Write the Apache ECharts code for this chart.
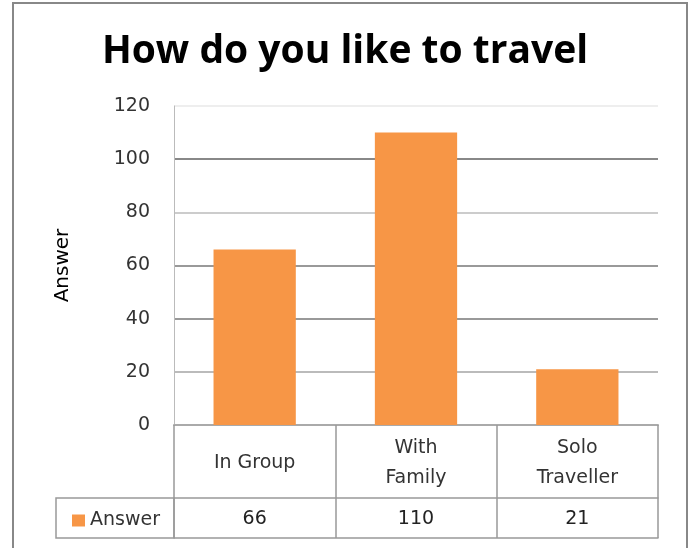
<!DOCTYPE html>
<html>
<head>
<meta charset="utf-8">
<script src="https://cdn.jsdelivr.net/npm/echarts@6/dist/echarts.min.js"></script>
<style>
  html, body { margin: 0; padding: 0; background: #fff; }
  #chart { width: 690px; height: 548px; }
</style>
</head>
<body>
<div id="chart"></div>
<script>
// Survey: how people like to travel
const seriesName = 'Answer';
const categories = ['In Group', 'With\nFamily', 'Solo\nTraveller'];
const answers = [66, 110, 21];
const yTicks = { min: 0, max: 120, interval: 20 };

// layout of the plot and of the data table underneath
const G = { left: 174, right: 32, top: 106, bottom: 123 };
const W = 690, H = 548;
const catRowH = 73, valRowH = 40, legendCellLeft = 56;
const axisY = H - G.bottom;
const tableLine = '#999';
const titleFont = '"Open Sans", "DejaVu Sans", sans-serif';
const font = '"DejaVu Sans", "Open Sans", sans-serif';

const chart = echarts.init(document.getElementById('chart'), null, { renderer: 'canvas' });

chart.setOption({
  backgroundColor: '#fff',
  animation: false,
  title: {
    text: 'How do you like to travel',
    left: 'center',
    top: 27,
    textStyle: { fontFamily: titleFont, fontSize: 39, fontWeight: 'bold', color: '#000' }
  },
  legend: {
    data: [seriesName],
    left: 67,
    top: axisY + catRowH + 8,
    icon: 'rect',
    itemWidth: 13,
    itemHeight: 12,
    itemStyle: { borderWidth: 0 },
    textStyle: { fontFamily: font, fontSize: 19, color: '#333', verticalAlign: 'middle' },
    selectedMode: false
  },
  grid: { left: G.left, right: G.right, top: G.top, bottom: G.bottom, containLabel: false },
  xAxis: [
    {
      // category header row of the table
      type: 'category',
      data: categories,
      position: 'bottom',
      boundaryGap: true,
      axisLine: { show: true, lineStyle: { color: '#aaa', width: 2 } },
      axisTick: { show: true, length: catRowH, lineStyle: { color: tableLine, width: 1.5 } },
      axisLabel: {
        fontFamily: font, fontSize: 19, color: '#333', lineHeight: 30,
        verticalAlign: 'middle', margin: 38
      },
      splitLine: { show: false }
    },
    {
      // value row of the table
      type: 'category',
      data: categories,
      position: 'bottom',
      offset: catRowH,
      boundaryGap: true,
      axisLine: { show: true, lineStyle: { color: tableLine, width: 1.5 } },
      axisTick: { show: true, length: valRowH, lineStyle: { color: tableLine, width: 1.5 } },
      axisLabel: {
        fontFamily: font, fontSize: 19, color: '#222',
        verticalAlign: 'middle', margin: 21,
        formatter: (v, i) => String(answers[i])
      },
      splitLine: { show: false }
    },
    {
      // bottom edge of the table
      type: 'category',
      data: categories,
      position: 'bottom',
      offset: catRowH + valRowH,
      axisLine: { show: true, lineStyle: { color: tableLine, width: 1.5 } },
      axisTick: { show: false },
      axisLabel: { show: false }
    }
  ],
  yAxis: {
    type: 'value',
    min: yTicks.min,
    max: yTicks.max,
    interval: yTicks.interval,
    name: seriesName,
    nameLocation: 'middle',
    nameRotate: 90,
    nameGap: 101,
    nameTextStyle: { fontFamily: font, fontSize: 20, color: '#000' },
    axisLine: { show: true, lineStyle: { color: '#bbb', width: 1 } },
    axisTick: { show: false },
    axisLabel: { fontFamily: font, fontSize: 19, color: '#333', margin: 24, verticalAlign: 'middle', padding: [4, 0, 0, 0] },
    splitLine: {
      show: true,
      lineStyle: { color: ['#aaa', '#bbb', '#999', '#999', '#ccc', '#888', '#eee'], width: 2 }
    }
  },
  graphic: [
    {
      // chart frame
      type: 'rect',
      shape: { x: 13, y: 3, width: 674, height: 560 },
      style: { fill: 'none', stroke: '#888', lineWidth: 2 },
      silent: true
    },
    {
      // legend cell of the table
      type: 'rect',
      shape: { x: legendCellLeft, y: axisY + catRowH, width: G.left - legendCellLeft, height: valRowH },
      style: { fill: 'none', stroke: tableLine, lineWidth: 1.5 },
      silent: true
    }
  ],
  series: [
    {
      name: seriesName,
      type: 'bar',
      xAxisIndex: 0,
      data: answers,
      barWidth: '51%',
      itemStyle: { color: '#F79646' }
    }
  ]
});
</script>
</body>
</html>
